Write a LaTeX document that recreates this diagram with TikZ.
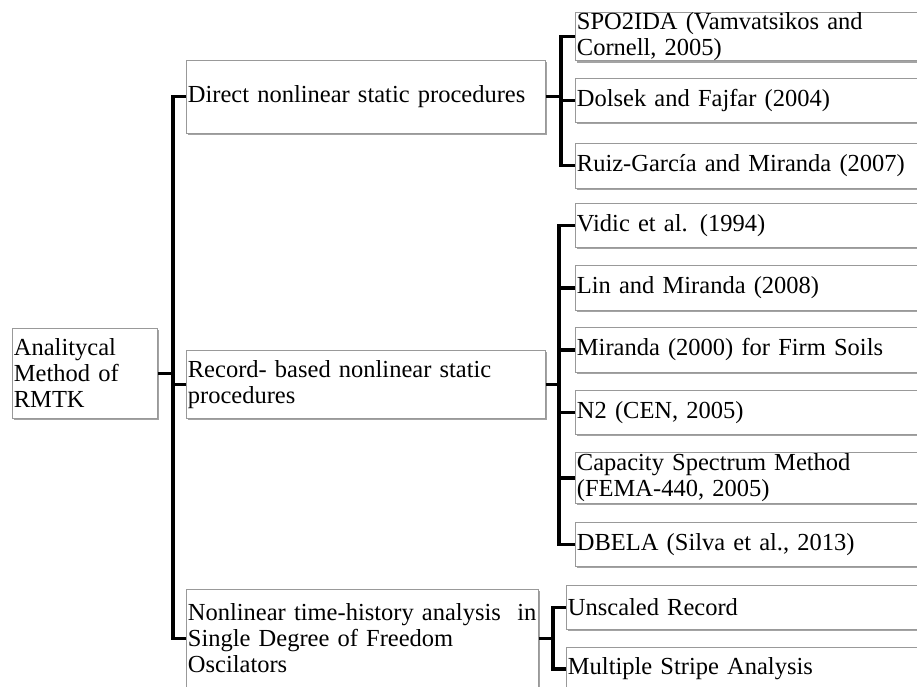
\documentclass[tikz,border=0pt]{standalone}
\usepackage{fontspec}
\setmainfont{Liberation Serif}
\usetikzlibrary{shadows}
\tikzstyle{mybox} = [draw=gray!80, fill=white, thick, rectangle, anchor=north west, align=left, inner xsep=1.5pt, inner ysep=0pt, font=\fontsize{24.5}{26}\selectfont, drop shadow={shadow xshift=1.5pt, shadow yshift=-2pt, fill=gray!80, opacity=.9}]
\tikzstyle{mylink} = [draw=black, line width=3.2pt]

\begin{document}
\begin{tikzpicture}[x=1pt, y=-1pt]
\useasboundingbox (0,0) rectangle (917,687);
\clip (0,0) rectangle (917,687);
% left column
\node [mybox, text width=142pt, minimum height=90pt] (root) at (12,328) {Analitycal\\Method of\\RMTK};
% middle column
\node [mybox, text width=356pt, minimum height=73pt] (direct) at (186,60) {Direct nonlinear static procedures};
\node [mybox, text width=356pt, minimum height=68pt] (record) at (186,350) {Record- based nonlinear static\\procedures};
\node [mybox, text width=349pt, minimum height=98pt] (nonlin) at (186,589) {Nonlinear time-history analysis\ \ in\\Single Degree of Freedom\\Oscilators};
% right column
\node [mybox, text width=400pt, minimum height=48pt] (spo) at (575,12) {SPO2IDA (Vamvatsikos and\\Cornell, 2005)};
\node [mybox, text width=400pt, minimum height=44pt] (dolsek) at (575,78) {Dolsek and Fajfar (2004)};
\node [mybox, text width=400pt, minimum height=45pt] (ruiz) at (575,143) {Ruiz-García and Miranda (2007)};
\node [mybox, text width=400pt, minimum height=44pt] (vidic) at (575,203) {Vidic et al. (1994)};
\node [mybox, text width=400pt, minimum height=45pt] (lin) at (575,265) {Lin and Miranda (2008)};
\node [mybox, text width=400pt, minimum height=45pt] (miranda) at (575,327) {Miranda (2000) for Firm Soils};
\node [mybox, text width=400pt, minimum height=44pt] (ntwo) at (575,390) {N2 (CEN, 2005)};
\node [mybox, text width=400pt, minimum height=51pt] (csm) at (575,452) {Capacity Spectrum Method\\(FEMA-440, 2005)};
\node [mybox, text width=400pt, minimum height=44pt] (dbela) at (575,522) {DBELA (Silva et al., 2013)};
\node [mybox, text width=400pt, minimum height=44pt] (unscaled) at (566,585) {Unscaled Record};
\node [mybox, text width=400pt, minimum height=43pt] (msa) at (566,647) {Multiple Stripe Analysis};
% trunks
\coordinate (ta) at (173,0);
\coordinate (tb) at (561,0);
\coordinate (tc) at (559,0);
\coordinate (td) at (553,0);
\draw [mylink] (root.east) -- (root.east -| ta);
\draw [mylink] (direct.west) -- (direct.west -| ta) -- (nonlin.west -| ta) -- (nonlin.west);
\draw [mylink] (record.west) -- (record.west -| ta);
\draw [mylink] (direct.east) -- (direct.east -| tb);
\draw [mylink] (spo.west) -- (spo.west -| tb) -- (ruiz.west -| tb) -- (ruiz.west);
\draw [mylink] (dolsek.west) -- (dolsek.west -| tb);
\draw [mylink] (record.east) -- (record.east -| tc);
\draw [mylink] (vidic.west) -- (vidic.west -| tc) -- (dbela.west -| tc) -- (dbela.west);
\foreach \n in {lin, miranda, ntwo, csm}
  \draw [mylink] (\n.west) -- (\n.west -| tc);
\draw [mylink] (nonlin.east) -- (nonlin.east -| td);
\draw [mylink] (unscaled.west) -- (unscaled.west -| td) -- (msa.west -| td) -- (msa.west);
\end{tikzpicture}
\end{document}
